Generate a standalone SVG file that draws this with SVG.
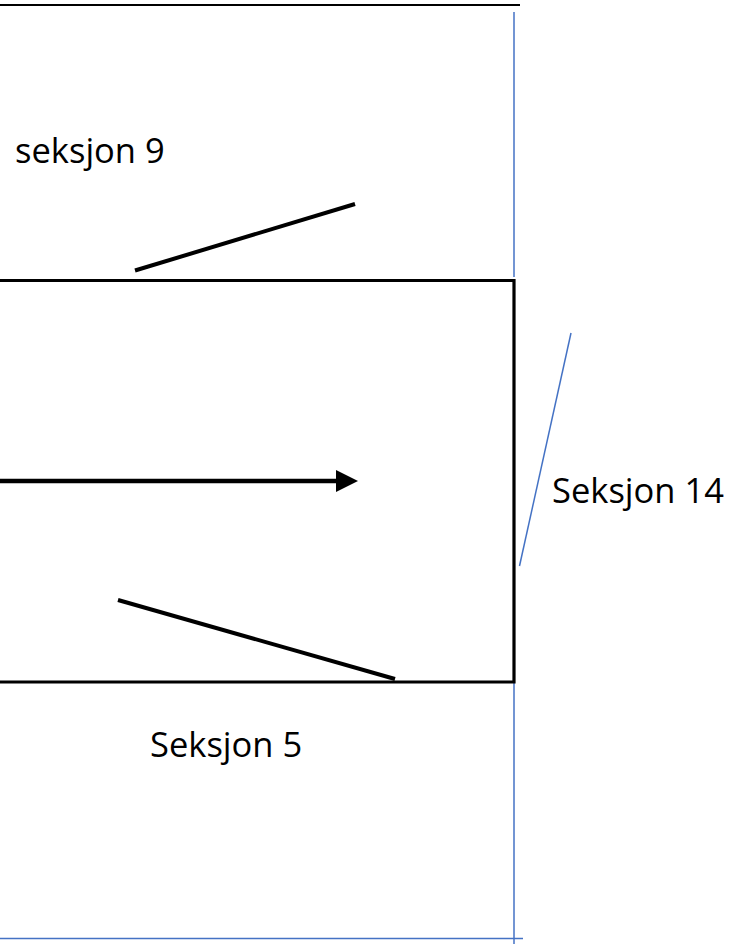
<svg xmlns="http://www.w3.org/2000/svg" width="734" height="944" viewBox="0 0 734 944">
  <style>
    .blk { stroke: #000; fill: none; stroke-linecap: butt; }
    .blue { stroke: #4472C4; stroke-width: 1.5; fill: none; }
    .lbl { font-family: "Open Sans", "Liberation Sans", sans-serif; font-size: 34.5px; fill: #000; }
  </style>
  <rect width="734" height="944" fill="#fff"/>

  <!-- frame lines -->
  <g id="frame">
    <line class="blk" x1="0" y1="5" x2="520" y2="5" stroke-width="2"/>
    <line class="blue" x1="514" y1="12" x2="514" y2="277"/>
    <line class="blue" x1="514" y1="662" x2="514" y2="944"/>
    <line class="blue" x1="0" y1="938.5" x2="523" y2="938.5"/>
  </g>

  <!-- central section box -->
  <g id="box">
    <polyline class="blk" stroke-width="3.2" points="-5,280.5 514,280.5 514,682 -5,682"/>
  </g>

  <!-- markers and flow arrow -->
  <g id="connectors">
    <line class="blk" stroke-width="4" x1="135" y1="270.5" x2="355" y2="204"/>
    <line class="blk" stroke-width="4" x1="118" y1="600" x2="395" y2="679"/>
    <line class="blue" x1="571" y1="333" x2="519.5" y2="566"/>
    <line class="blk" stroke-width="4.5" x1="-5" y1="481" x2="337" y2="481"/>
    <polygon points="336,470 358,481 336,492" fill="#000"/>
  </g>

  <g id="label-seksjon9"><text class="lbl" x="15" y="163">seksjon 9</text></g>
  <g id="label-seksjon14"><text class="lbl" x="552" y="503">Seksjon 14</text></g>
  <g id="label-seksjon5"><text class="lbl" x="150" y="757">Seksjon 5</text></g>
</svg>
